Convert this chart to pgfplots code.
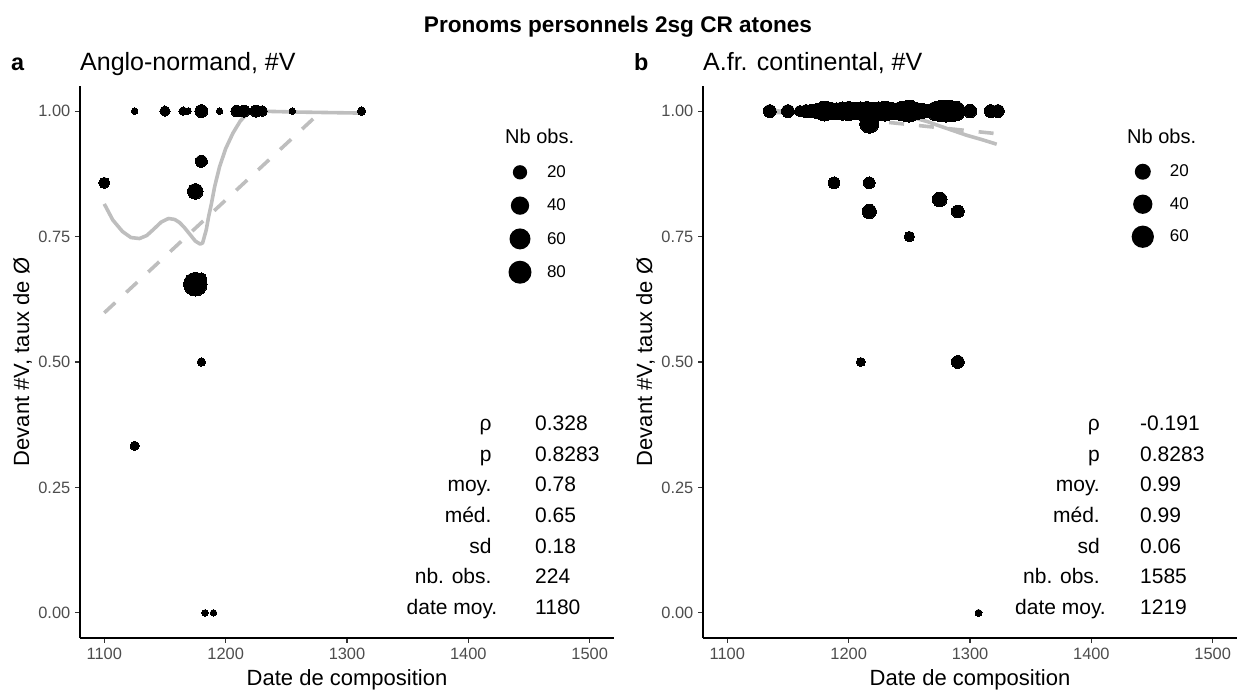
\documentclass[border=0pt]{standalone}
\usepackage{fontspec}
\setmainfont{Liberation Sans}
\usepackage{pgfplots}
\pgfplotsset{compat=1.18}
\usepackage{pgfplotstable}

\definecolor{smoothgray}{RGB}{190,190,190}
\definecolor{ticklab}{RGB}{77,77,77}
\definecolor{tickcol}{RGB}{51,51,51}

\newcommand{\pp}[2]{({#1pt},{(692-#2)*1pt})}

% Panel a: date, rate, number of observations
\pgfplotstableread{
year val n
1125 1.000 1
1150 1.000 5
1165 1.000 2
1169 1.000 1
1180 1.000 13
1195 1.000 1
1209 1.000 8
1215 1.000 10
1225 1.000 10
1230 1.000 6
1255 1.000 1
1312 1.000 2
1100 0.857 7
1180 0.900 10
1175 0.840 25
1175 0.655 87
1180 0.667 6
1180 0.500 2
1125 0.333 3
1183 0.000 1
1190 0.000 1
}\ptsA

\pgfplotstableread{
year val
1100 0.815
1107 0.783
1115 0.760
1122 0.748
1129 0.746
1135 0.752
1140 0.763
1147 0.779
1153 0.786
1158 0.784
1162 0.778
1166 0.768
1170 0.756
1175 0.741
1179 0.735
1181 0.737
1184 0.763
1186 0.790
1188 0.812
1191 0.850
1195 0.889
1200 0.925
1206 0.956
1212 0.980
1219 0.998
1225 1.000
1260 0.998
1312 0.996
}\loessA

\pgfplotstableread{
year val
1100 0.598
1279 1.000
}\linA

% Panel b
\pgfplotstableread{
year val n
1135 1.000 10
1150 1.000 10
1160 1.000 6
1165 1.000 10
1170 1.000 12
1175 1.000 20
1180 1.000 45
1185 1.000 30
1190 1.000 25
1195 1.000 35
1200 1.000 40
1205 1.000 30
1210 1.000 35
1215 1.000 40
1220 1.000 30
1225 1.000 35
1230 1.000 45
1235 1.000 30
1240 1.000 25
1245 1.000 45
1250 1.000 60
1255 1.000 30
1260 1.000 20
1265 1.000 12
1272 1.000 40
1276 1.000 55
1280 1.000 60
1284 1.000 55
1288 1.000 45
1300 1.000 12
1317 1.000 10
1323 1.000 10
1217 0.975 40
1188 0.857 7
1217 0.857 7
1217 0.800 15
1275 0.824 17
1290 0.800 10
1250 0.750 4
1210 0.500 2
1290 0.500 10
1307 0.000 1
}\ptsB

\pgfplotstableread{
year val
1135 0.997
1160 0.997
1185 0.995
1201 0.989
1210 0.985
1218 0.983
1230 0.986
1243 0.990
1256 0.985
1265 0.979
1273 0.972
1285 0.962
1297 0.952
1310 0.943
1322 0.934
}\loessB

\pgfplotstableread{
year val
1135 1.002
1322 0.955
}\linB

\pgfplotsset{
  panel/.style={
    scale only axis, width=534pt, height=552pt,
    xmin=1080, xmax=1520, ymin=-0.05, ymax=1.05,
    axis x line*=bottom, axis y line*=left,
    axis line style={black, line width=1.1pt, -},
    xtick={1100,1200,1300,1400,1500},
    xticklabels={1100,1200,1300,1400,1500},
    ytick={0,0.25,0.5,0.75,1},
    yticklabels={0.00,0.25,0.50,0.75,1.00},
    /pgf/number format/assume math mode=true,
    tick align=outside, major tick length=5pt,
    tick style={tickcol, line width=1.1pt},
    ticklabel style={font=\fontsize{16.4}{19}\selectfont, text=ticklab, inner sep=0pt},
    xticklabel style={yshift=-5pt},
    yticklabel style={xshift=-4.5pt},
    clip=false,
    legend style={draw=none, fill=none, inner sep=0pt, outer sep=0pt,
      row sep=0pt, column sep=15pt, anchor=north west,
      font=\fontsize{17}{20}\selectfont, nodes={inner sep=0pt}},
    legend cell align=left,
  },
  pts/.style={only marks, scatter, mark=*,
    scatter/use mapped color={draw=black, fill=black},
    mark options={line width=0pt},
    scatter/@pre marker code/.append style={/tikz/mark size=\rad pt}},
  loess/.style={smoothgray, line width=3.6pt, line join=round},
  lin/.style={smoothgray, line width=3.6pt, dash pattern=on 15pt off 15pt},
  dot/.style 2 args={legend image code/.code={%
    \path[draw=none, fill=none] (-12pt,-#2) rectangle (12pt,#2);
    \fill[black, draw=none] (0pt,0pt) circle (#1);}},
}

\begin{document}
\begin{tikzpicture}
\useasboundingbox (0,0) rectangle (1241pt,692pt);

% ---------- panel a ----------
\begin{axis}[panel, at={(80pt,54pt)}, anchor=south west,
  legend style={at={(0.8015,0.8738)}}]
\addlegendimage{dot={7.15pt}{16.65pt}}
\addlegendentry{20}
\addlegendimage{dot={9.15pt}{16.65pt}}
\addlegendentry{40}
\addlegendimage{dot={10.5pt}{16.65pt}}
\addlegendentry{60}
\addlegendimage{dot={11.5pt}{16.65pt}}
\addlegendentry{80}
\addplot[pts, visualization depends on={(6.5+1.85*sqrt(\thisrow{n}-1))/2 \as \rad}]
  table[x=year, y=val] {\ptsA};
\addplot[loess] table[x=year, y=val] {\loessA};
\addplot[lin] table[x=year, y=val] {\linA};
\end{axis}

% ---------- panel b ----------
\begin{axis}[panel, at={(703pt,54pt)}, anchor=south west,
  legend style={at={(0.8011,0.8741)}}]
\addlegendimage{dot={8pt}{16.25pt}}
\addlegendentry{20}
\addlegendimage{dot={9.65pt}{16.25pt}}
\addlegendentry{40}
\addlegendimage{dot={11.15pt}{16.25pt}}
\addlegendentry{60}
\addplot[pts, visualization depends on={(7+1.95*sqrt(\thisrow{n}-1))/2 \as \rad}]
  table[x=year, y=val] {\ptsB};
\addplot[loess] table[x=year, y=val] {\loessB};
\addplot[lin] table[x=year, y=val] {\linB};
\end{axis}

% ---------- titles ----------
\node[anchor=base, inner sep=0pt, font=\bfseries\fontsize{22.6}{26}\selectfont] at \pp{618}{33} {Pronoms personnels 2sg CR atones};
\node[anchor=base west, inner sep=0pt, font=\bfseries\fontsize{23.4}{28}\selectfont] at \pp{11}{70.7} {a};
\node[anchor=base west, inner sep=0pt, font=\fontsize{25}{30}\selectfont] at \pp{80}{70.7} {Anglo-normand, \#V};
\node[anchor=base west, inner sep=0pt, font=\bfseries\fontsize{23.4}{28}\selectfont] at \pp{634}{70.7} {b};
\node[anchor=base west, inner sep=0pt, font=\fontsize{25}{30}\selectfont] at \pp{703}{70.7} {A.fr. continental, \#V};

% axis titles
\node[anchor=base, inner sep=0pt, font=\fontsize{22}{26}\selectfont] at \pp{347}{686} {Date de composition};
\node[anchor=base, inner sep=0pt, font=\fontsize{22}{26}\selectfont] at \pp{970}{686} {Date de composition};
\node[anchor=base, rotate=90, inner sep=0pt, font=\fontsize{22}{26}\selectfont] at \pp{29}{362} {Devant \#V, taux de Ø};
\node[anchor=base, rotate=90, inner sep=0pt, font=\fontsize{22}{26}\selectfont] at \pp{652}{362} {Devant \#V, taux de Ø};

% legend titles
\node[anchor=base west, inner sep=0pt, font=\fontsize{20}{24}\selectfont] at \pp{505}{144} {Nb obs.};
\node[anchor=base west, inner sep=0pt, font=\fontsize{20}{24}\selectfont] at \pp{1127}{144} {Nb obs.};

% stats panel a
\begin{scope}[every node/.style={inner sep=0pt, font=\fontsize{21}{25}\selectfont}]
\node[anchor=base east] at \pp{491.7}{430.8} {ρ};
\node[anchor=base east] at \pp{491.7}{461.4} {p};
\node[anchor=base east] at \pp{491.7}{492} {moy.};
\node[anchor=base east] at \pp{491.7}{522.5} {méd.};
\node[anchor=base east] at \pp{491.7}{553.1} {sd};
\node[anchor=base east] at \pp{491.7}{583.7} {nb. obs.};
\node[anchor=base east] at \pp{497.5}{614.2} {date moy.};
\node[anchor=base west] at \pp{535}{430.8} {0.328};
\node[anchor=base west] at \pp{535}{461.4} {0.8283};
\node[anchor=base west] at \pp{535}{492} {0.78};
\node[anchor=base west] at \pp{535}{522.5} {0.65};
\node[anchor=base west] at \pp{535}{553.1} {0.18};
\node[anchor=base west] at \pp{535}{583.7} {224};
\node[anchor=base west] at \pp{535}{614.2} {1180};
% stats panel b
\node[anchor=base east] at \pp{1100}{430.8} {ρ};
\node[anchor=base east] at \pp{1100}{461.4} {p};
\node[anchor=base east] at \pp{1100}{492} {moy.};
\node[anchor=base east] at \pp{1100}{522.5} {méd.};
\node[anchor=base east] at \pp{1100}{553.1} {sd};
\node[anchor=base east] at \pp{1100}{583.7} {nb. obs.};
\node[anchor=base east] at \pp{1106}{614.2} {date moy.};
\node[anchor=base west] at \pp{1140}{430.8} {-0.191};
\node[anchor=base west] at \pp{1140}{461.4} {0.8283};
\node[anchor=base west] at \pp{1140}{492} {0.99};
\node[anchor=base west] at \pp{1140}{522.5} {0.99};
\node[anchor=base west] at \pp{1140}{553.1} {0.06};
\node[anchor=base west] at \pp{1140}{583.7} {1585};
\node[anchor=base west] at \pp{1140}{614.2} {1219};
\end{scope}
\end{tikzpicture}
\end{document}
